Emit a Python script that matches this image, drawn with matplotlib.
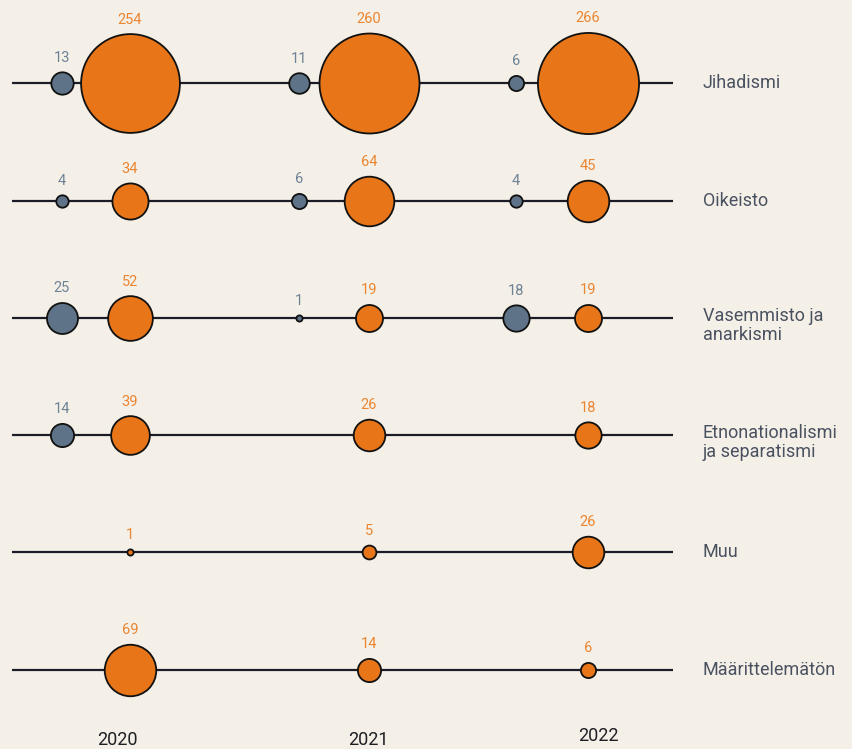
import numpy as np
import matplotlib
matplotlib.use("Agg")
import matplotlib.pyplot as plt

# ---- data ----
categories = ["Jihadismi", "Oikeisto", "Vasemmisto ja\nanarkismi",
              "Etnonationalismi\nja separatismi", "Muu", "Määrittelemätön"]
years = ["2020", "2021", "2022"]
grey_values = [
    [13, 11, 6],
    [4, 6, 4],
    [25, 1, 18],
    [14, None, None],
    [None, None, None],
    [None, None, None],
]
orange_values = [
    [254, 260, 266],
    [34, 64, 45],
    [52, 19, 19],
    [39, 26, 18],
    [1, 5, 26],
    [69, 14, 6],
]

# ---- layout / style ----
W, H, DPI = 853, 749, 100
bg = "#F4F0E8"
grey_c = "#5E7387"
grey_txt = "#6E8296"
orange_c = "#E87518"
orange_txt = "#EC8530"
label_c = "#4A5160"
row_y = [83, 201, 318, 435, 552, 670]
grey_x = [62, 299, 516]
orange_x = [130, 369, 588]
year_x = [117, 368, 598]
year_y = [740, 740, 736]
line_x0, line_x1 = 12, 673
k = 3.1  # radius px per sqrt(value)

plt.rcParams['font.family'] = ['Roboto', 'DejaVu Sans']
fig = plt.figure(figsize=(W / DPI, H / DPI), dpi=DPI, facecolor=bg)
ax = fig.add_axes([0, 0, 1, 1])
ax.set_facecolor(bg)
ax.set_xlim(0, W)
ax.set_ylim(H, 0)
ax.axis("off")

px2pt = 72.0 / DPI

def draw_series(values, xs, fill, tcol, y):
    for v, x in zip(values, xs):
        if v is None:
            continue
        r = k * np.sqrt(v)
        d_pt = 2 * r * px2pt
        ax.scatter([x], [y], s=d_pt ** 2, color=fill, edgecolors="#111111",
                   linewidths=1.3, zorder=3)
        ax.text(x, y - r - 14, str(v), ha="center", va="center",
                fontsize=10.5, color=tcol, zorder=4)

for i, cat in enumerate(categories):
    y = row_y[i]
    ax.plot([line_x0, line_x1], [y, y], color="#1C1C28", lw=1.6, zorder=1,
            solid_capstyle="butt")
    draw_series(grey_values[i], grey_x, grey_c, grey_txt, y)
    draw_series(orange_values[i], orange_x, orange_c, orange_txt, y)
    if "\n" in cat:
        ax.text(703, y - 11, cat, ha="left", va="top", fontsize=13,
                color=label_c, linespacing=1.05)
    else:
        ax.text(703, y, cat, ha="left", va="center", fontsize=13, color=label_c)

for yr, x, y in zip(years, year_x, year_y):
    ax.text(x, y, yr, ha="center", va="center", fontsize=13, color="#1E1E24")

fig.savefig("out.png", dpi=DPI, facecolor=bg)
